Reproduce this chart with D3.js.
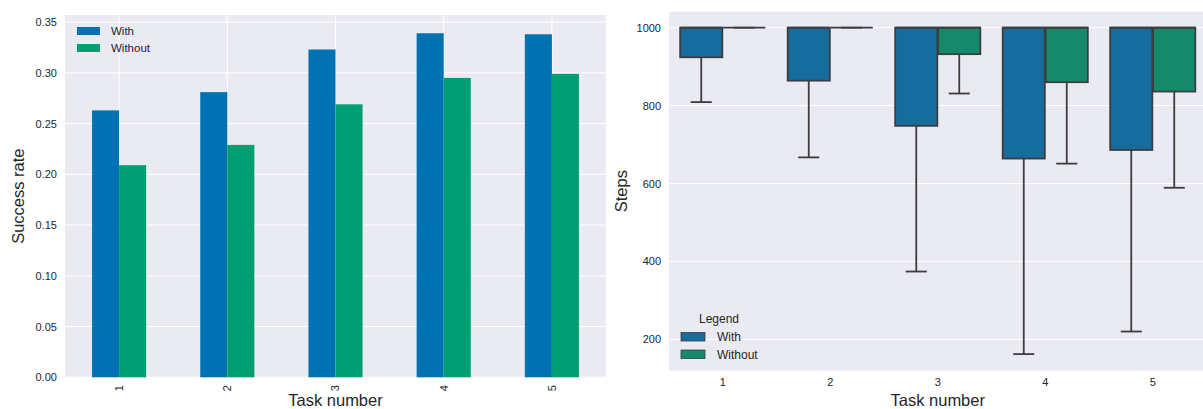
<!DOCTYPE html>
<html>
<head>
<meta charset="utf-8">
<script src="https://cdn.jsdelivr.net/npm/d3@7"></script>
<style>
	body { margin: 0; background: #fff; }
	svg { display: block; font-family: "Liberation Sans", Arial, sans-serif; }
</style>
</head>
<body>
<div id="chart"></div>
<script>
// data
const tasks = ["1", "2", "3", "4", "5"];
const successWith = [0.263, 0.281, 0.323, 0.339, 0.338];
const successWithout = [0.209, 0.229, 0.269, 0.295, 0.299];
const successTicks = [0, 0.05, 0.10, 0.15, 0.20, 0.25, 0.30, 0.35];

// boxplot stats: upper whisker, q3 and median all sit at the 1000 step cap
const stepsWithQ1 = [924, 864, 748, 664, 686];
const stepsWithLow = [809, 667, 374, 162, 220];
const stepsWithoutQ1 = [1000, 1000, 932, 860, 836];
const stepsWithoutLow = [1000, 1000, 831, 651, 589];
const stepsMax = 1000;
const stepsTicks = [200, 400, 600, 800, 1000];

const seriesNames = ["With", "Without"];

const W = 1203, H = 409;
const bg = "#eaeaf2", txt = "#262626", edge = "#3d3d3d";
const barColors = ["#0072b2", "#009e73"];
const boxColors = ["#166c9c", "#148a6a"];

const svg = d3.select("#chart").append("svg").attr("width", W).attr("height", H);

/* ---------- left: success rate bars ---------- */
let L = {left: 65, right: 606, top: 15, bottom: 377.3};
let xL = d3.scaleBand().domain(tasks).range([L.left, L.right]);
let yL = d3.scaleLinear().domain([0, 0.357]).range([L.bottom, L.top]);

let gL = svg.append("g");
gL.append("rect").attr("x", L.left).attr("y", L.top)
	.attr("width", L.right - L.left).attr("height", L.bottom - L.top).attr("fill", bg);

// grid
gL.selectAll(".hg").data(successTicks).join("line")
	.attr("x1", L.left).attr("x2", L.right)
	.attr("y1", d => yL(d)).attr("y2", d => yL(d))
	.attr("stroke", "#fff").attr("stroke-width", 1);
gL.selectAll(".vg").data(tasks).join("line")
	.attr("x1", d => xL(d) + xL.bandwidth()/2).attr("x2", d => xL(d) + xL.bandwidth()/2)
	.attr("y1", L.top).attr("y2", L.bottom)
	.attr("stroke", "#fff").attr("stroke-width", 1);

let bw = xL.bandwidth() * 0.25;
[successWith, successWithout].forEach(function(arr, si){
	gL.selectAll(".bar" + si).data(arr).join("rect")
		.attr("x", (d, i) => xL(tasks[i]) + xL.bandwidth()/2 - bw + si*bw)
		.attr("width", bw)
		.attr("y", d => yL(d))
		.attr("height", d => yL(0) - yL(d))
		.attr("fill", barColors[si]);
});

// axes
let axYL = d3.axisLeft(yL).tickValues(successTicks).tickFormat(d3.format(".2f")).tickSize(0).tickPadding(8);
gL.append("g").attr("transform", `translate(${L.left},0)`).call(axYL)
	.call(g => g.select(".domain").remove())
	.selectAll("text").attr("font-size", 11).attr("fill", txt).attr("font-family", null);

let axXL = d3.axisBottom(xL).tickSize(0).tickPadding(0);
gL.append("g").attr("transform", `translate(0,${L.bottom})`).call(axXL)
	.call(g => g.select(".domain").remove())
	.selectAll("text")
	.attr("font-size", 11).attr("fill", txt).attr("font-family", null)
	.attr("transform", "translate(0,11) rotate(-90)")
	.attr("dy", "0.35em").attr("y", 0).attr("text-anchor", "middle");

gL.append("text").attr("x", (L.left + L.right)/2).attr("y", 406)
	.attr("text-anchor", "middle").attr("font-size", 16.5).attr("fill", txt).text("Task number");
gL.append("text").attr("transform", `translate(24,${(L.top + L.bottom)/2}) rotate(-90)`)
	.attr("text-anchor", "middle").attr("font-size", 16.5).attr("fill", txt).text("Success rate");

// legend
seriesNames.forEach(function(n, i){
	gL.append("rect").attr("x", 77).attr("y", 27 + i*17).attr("width", 23).attr("height", 8)
		.attr("fill", barColors[i]);
	gL.append("text").attr("x", 111).attr("y", 35 + i*17).attr("font-size", 11.5)
		.attr("fill", txt).text(n);
});

/* ---------- right: steps boxplot ---------- */
let R = {left: 669, right: 1206.5, top: 11.7, bottom: 370.7};
let xR = d3.scaleBand().domain(tasks).range([R.left, R.right]);
let yR = d3.scaleLinear().domain([119.4, 1041]).range([R.bottom, R.top]);

let gR = svg.append("g");
gR.append("rect").attr("x", R.left).attr("y", R.top)
	.attr("width", R.right - R.left).attr("height", R.bottom - R.top).attr("fill", bg);
gR.selectAll(".hg").data(stepsTicks).join("line")
	.attr("x1", R.left).attr("x2", R.right)
	.attr("y1", d => yR(d)).attr("y2", d => yR(d))
	.attr("stroke", "#fff").attr("stroke-width", 1);

let boxW = xR.bandwidth() * 0.392;
[[stepsWithQ1, stepsWithLow], [stepsWithoutQ1, stepsWithoutLow]].forEach(function(s, si){
	tasks.forEach(function(t, i){
		let cx = xR(t) + xR.bandwidth()/2 + (si === 0 ? -0.2 : 0.2) * xR.bandwidth();
		let q1 = s[0][i], lo = s[1][i];
		let g = gR.append("g").attr("stroke", edge).attr("stroke-width", 1.8);
		// whisker and cap
		g.append("line").attr("x1", cx).attr("x2", cx).attr("y1", yR(q1)).attr("y2", yR(lo));
		g.append("line").attr("x1", cx - boxW/4).attr("x2", cx + boxW/4).attr("y1", yR(lo)).attr("y2", yR(lo));
		// box
		g.append("rect").attr("x", cx - boxW/2).attr("width", boxW)
			.attr("y", yR(stepsMax)).attr("height", yR(q1) - yR(stepsMax))
			.attr("fill", boxColors[si]);
		// median line at the top
		g.append("line").attr("x1", cx - boxW/2).attr("x2", cx + boxW/2)
			.attr("y1", yR(stepsMax)).attr("y2", yR(stepsMax));
	});
});

let axYR = d3.axisLeft(yR).tickValues(stepsTicks).tickFormat(d3.format("d")).tickSize(0).tickPadding(8);
gR.append("g").attr("transform", `translate(${R.left},0)`).call(axYR)
	.call(g => g.select(".domain").remove())
	.selectAll("text").attr("font-size", 11).attr("fill", txt).attr("font-family", null);

let axXR = d3.axisBottom(xR).tickSize(0).tickPadding(8);
gR.append("g").attr("transform", `translate(0,${R.bottom})`).call(axXR)
	.call(g => g.select(".domain").remove())
	.selectAll("text").attr("font-size", 11).attr("fill", txt).attr("font-family", null);

gR.append("text").attr("x", (R.left + R.right)/2).attr("y", 406)
	.attr("text-anchor", "middle").attr("font-size", 16.5).attr("fill", txt).text("Task number");
gR.append("text").attr("transform", `translate(627,${(R.top + R.bottom)/2}) rotate(-90)`)
	.attr("text-anchor", "middle").attr("font-size", 16.5).attr("fill", txt).text("Steps");

// legend
gR.append("text").attr("x", 719).attr("y", 323).attr("text-anchor", "middle")
	.attr("font-size", 12).attr("fill", txt).text("Legend");
seriesNames.forEach(function(n, i){
	gR.append("rect").attr("x", 681).attr("y", 332.5 + i*17.5).attr("width", 24).attr("height", 8.5)
		.attr("fill", boxColors[i]).attr("stroke", edge).attr("stroke-width", 0.8);
	gR.append("text").attr("x", 717).attr("y", 341 + i*17.5).attr("font-size", 12)
		.attr("fill", txt).text(n);
});
</script>
</body>
</html>
